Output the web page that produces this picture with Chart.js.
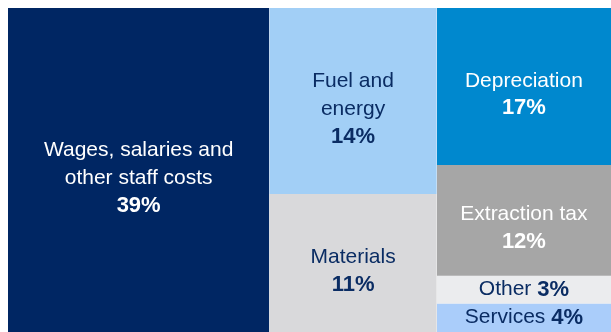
<!DOCTYPE html>
<html>
<head>
<meta charset="utf-8">
<script src="https://cdn.jsdelivr.net/npm/chart.js@4.4.1/dist/chart.umd.min.js"></script>
<style>
  html, body { margin: 0; padding: 0; background: #fff; }
  #wrap { width: 611px; height: 332px; position: relative; }
</style>
</head>
<body>
<div id="wrap"><canvas id="chart"></canvas></div>
<script>
// cost structure, % of total
const categories = [
  ["Wages, salaries and", "other staff costs"],
  ["Fuel and", "energy"],
  ["Materials"],
  ["Depreciation"],
  ["Extraction tax"],
  ["Other"],
  ["Services"],
];
const shares = [39, 14, 11, 17, 12, 3, 4];
// which treemap column each item sits in
const groups = [0, 1, 1, 2, 2, 2, 2];

const cellColors = ["#002663", "#a2cff6", "#d9d9db", "#0088ce", "#a6a6a6", "#ebecee", "#aacdfa"];
const textColors = ["#ffffff", "#0a2c63", "#0a2c63", "#ffffff", "#ffffff", "#0a2c63", "#0a2c63"];

const FONT_FAMILY = '"Liberation Sans", Arial, sans-serif';
const NAME_FONT = `21px ${FONT_FAMILY}`;
const VALUE_FONT = `bold 22px ${FONT_FAMILY}`;
const LINE_HEIGHT = 27.5;
const STACK_SHIFT = 8; // stacked labels sit a little below the cell middle

// slice-and-dice: columns sized by their total, items stacked inside each column
function layoutCells() {
  const totals = [];
  groups.forEach((g, i) => (totals[g] = (totals[g] || 0) + shares[i]));
  const starts = [];
  let acc = 0;
  totals.forEach((t, g) => {
    starts[g] = acc;
    acc += t;
  });
  const filled = totals.map(() => 0);
  return shares.map((v, i) => {
    const g = groups[i];
    const y0 = filled[g] / totals[g];
    filled[g] += v;
    return { x0: starts[g], x1: starts[g] + totals[g], y0, y1: filled[g] / totals[g] };
  });
}

const cells = layoutCells();

const datasets = cells.map((cell, i) => ({
  label: categories[i].join(" "),
  data: [
    { x: cell.x0, y: cell.y1 },
    { x: cell.x1, y: cell.y1 },
  ],
  fill: { target: { value: cell.y0 } },
  backgroundColor: cellColors[i],
  borderColor: "rgba(0,0,0,0)",
  borderWidth: 0,
  pointRadius: 0,
  tension: 0,
}));

const cellLabels = {
  id: "cellLabels",
  afterDatasetsDraw(chart) {
    const { ctx, chartArea, scales } = chart;
    const x = scales.x;
    const y = scales.y;
    ctx.save();
    ctx.textBaseline = "middle";
    cells.forEach((cell, i) => {
      const left = Math.max(x.getPixelForValue(cell.x0), chartArea.left);
      const right = Math.min(x.getPixelForValue(cell.x1), chartArea.right);
      const top = Math.max(y.getPixelForValue(cell.y0), chartArea.top);
      const bottom = Math.min(y.getPixelForValue(cell.y1), chartArea.bottom);
      const cx = (left + right) / 2;
      const cy = (top + bottom) / 2;
      const lines = categories[i];
      const value = `${shares[i]}%`;
      ctx.fillStyle = textColors[i];

      if (bottom - top < 2 * LINE_HEIGHT) {
        // small cells: name and value on one line
        const name = lines.join(" ") + " ";
        ctx.font = NAME_FONT;
        const nameWidth = ctx.measureText(name).width;
        ctx.font = VALUE_FONT;
        const valueWidth = ctx.measureText(value).width;
        const start = cx - (nameWidth + valueWidth) / 2;
        ctx.textAlign = "left";
        ctx.font = NAME_FONT;
        ctx.fillText(name, start, cy);
        ctx.font = VALUE_FONT;
        ctx.fillText(value, start + nameWidth, cy);
        return;
      }

      const rows = lines.length + 1;
      const firstY = cy + STACK_SHIFT - ((rows - 1) / 2) * LINE_HEIGHT;
      ctx.textAlign = "center";
      ctx.font = NAME_FONT;
      lines.forEach((line, k) => ctx.fillText(line, cx, firstY + k * LINE_HEIGHT));
      ctx.font = VALUE_FONT;
      ctx.fillText(value, cx, firstY + lines.length * LINE_HEIGHT);
    });
    ctx.restore();
  },
};

new Chart(document.getElementById("chart"), {
  type: "line",
  data: { datasets },
  options: {
    responsive: true,
    maintainAspectRatio: false,
    animation: false,
    layout: { padding: { left: 8, top: 8, right: 0, bottom: 0 } },
    plugins: {
      legend: { display: false },
      tooltip: { enabled: false },
    },
    scales: {
      x: { type: "linear", min: 0, max: 90, display: false },
      y: { type: "linear", min: 0, max: 0.975, reverse: true, display: false },
    },
  },
  plugins: [cellLabels],
});
</script>
</body>
</html>
